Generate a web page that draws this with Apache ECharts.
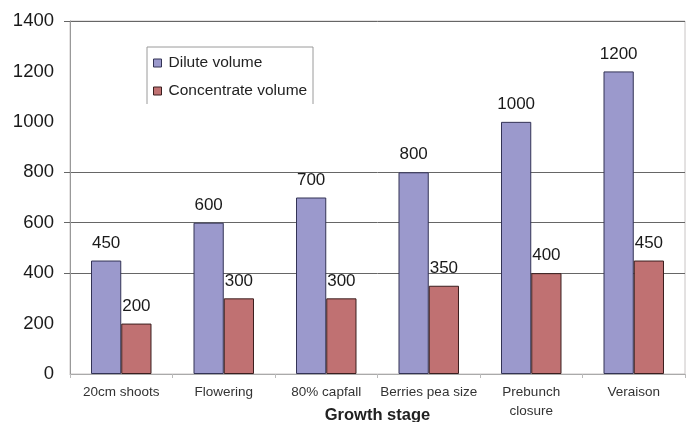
<!DOCTYPE html>
<html>
<head>
<meta charset="utf-8">
<script src="https://cdn.jsdelivr.net/npm/echarts@6/dist/echarts.min.js"></script>
<style>
  html, body { margin: 0; padding: 0; background: #fff; }
  #chart { width: 686px; height: 422px; }
</style>
</head>
<body>
<div id="chart"></div>
<script>
// Spray volumes by vine growth stage
const stages = ['20cm shoots', 'Flowering', '80% capfall', 'Berries pea size', 'Prebunch\nclosure', 'Veraison'];
const diluteVolume = [450, 600, 700, 800, 1000, 1200];
const concentrateVolume = [200, 300, 300, 350, 400, 450];
const yTicks = [0, 200, 400, 600, 800, 1000, 1200, 1400];
const gridLineValues = [400, 600, 800, 1400];

const FONT = '"Liberation Sans", Arial, sans-serif';

const chart = echarts.init(document.getElementById('chart'));

const labelStyle = {
  show: true,
  position: 'top',
  distance: 9,
  fontFamily: FONT,
  fontSize: 17,
  color: '#1a1a1a'
};

chart.setOption({
  animation: false,
  backgroundColor: '#fff',
  grid: {
    left: 70, right: 1, top: 21, bottom: 48,
    outerBoundsMode: 'none',
    containLabel: false,
    show: true,
    borderColor: '#c8c4c4',
    borderWidth: 1
  },
  // legend frame: open at the bottom, as in the old spreadsheet style
  graphic: [{
    type: 'polyline',
    shape: { points: [[147, 104], [147, 47], [313, 47], [313, 104]] },
    style: { stroke: '#9a9a9a', lineWidth: 1, fill: null },
    z: 5
  }],
  legend: {
    orient: 'vertical',
    left: 149, top: 55,
    padding: [0, 0, 0, 4],
    itemGap: 12,
    itemWidth: 8, itemHeight: 8,
    icon: 'rect',
    itemStyle: { borderWidth: 1 },
    textStyle: { fontFamily: FONT, fontSize: 15.5, color: '#222', padding: [0, 0, 0, 2], lineHeight: 15 },
    data: ['Dilute volume', 'Concentrate volume']
  },
  xAxis: {
    type: 'category',
    data: stages,
    axisLine: { lineStyle: { color: '#aaa', width: 1 } },
    axisTick: { show: true, length: 4, lineStyle: { color: '#bbb' } },
    axisLabel: {
      fontFamily: FONT, fontSize: 13.5, color: '#333', margin: 9, lineHeight: 19,
      interval: 0
    },
    name: 'Growth stage',
    nameLocation: 'middle',
    nameGap: 33,
    nameMoveOverlap: false,
    nameTextStyle: { fontFamily: FONT, fontSize: 16.5, fontWeight: 'bold', color: '#222' }
  },
  yAxis: {
    type: 'value',
    min: 0, max: 1400, interval: 200,
    axisLine: { show: true, lineStyle: { color: '#999', width: 1 } },
    axisTick: {
      show: true, length: 6,
      customValues: gridLineValues,
      lineStyle: { color: '#666' }
    },
    axisLabel: {
      customValues: yTicks,
      formatter: (v) => String(v),
      fontFamily: FONT, fontSize: 18.5, color: '#1a1a1a', margin: 16
    },
    splitLine: { show: true, lineStyle: { color: '#666', width: 1 } }
  },
  series: [
    {
      name: 'Dilute volume',
      type: 'bar',
      data: diluteVolume,
      barGap: '0%',
      barCategoryGap: '41%',
      itemStyle: { color: '#9b99cc', borderColor: '#333355', borderWidth: 1 },
      label: labelStyle
    },
    {
      name: 'Concentrate volume',
      type: 'bar',
      data: concentrateVolume,
      itemStyle: { color: '#c07172', borderColor: '#3a1e1e', borderWidth: 1 },
      label: labelStyle
    }
  ]
});
</script>
</body>
</html>
